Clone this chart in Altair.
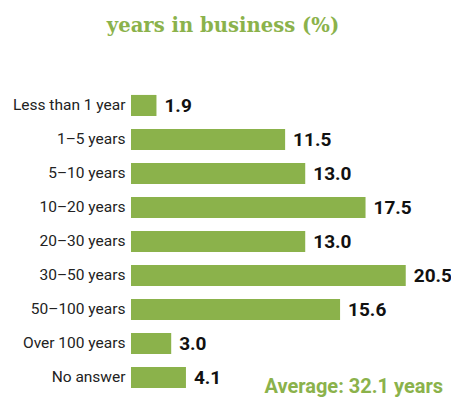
import altair as alt
import pandas as pd

categories = ["Less than 1 year", "1–5 years", "5–10 years", "10–20 years",
              "20–30 years", "30–50 years", "50–100 years", "Over 100 years", "No answer"]
values = [1.9, 11.5, 13.0, 17.5, 13.0, 20.5, 15.6, 3.0, 4.1]
title_text = "years in business (%)"
average_text = "Average: 32.1 years"

GREEN = "#8bb24b"
SANS = "Roboto"
df = pd.DataFrame({"cat": categories, "val": values})

W, H = 312, 300

base = alt.Chart(df).encode(
    y=alt.Y("cat:N", sort=categories,
            scale=alt.Scale(paddingInner=0.38, paddingOuter=0.102, align=1),
            axis=alt.Axis(title=None, domain=False, ticks=False, labelPadding=6,
                          labelFont=SANS, labelFontSize=15.5, labelFontWeight="normal",
                          labelColor="#222222", labelLimit=200)),
    x=alt.X("val:Q", scale=alt.Scale(domain=[0, 23.28], nice=False, zero=True),
            axis=None),
)

bars = base.mark_bar(color=GREEN)
labels = base.mark_text(align="left", baseline="middle", dx=8, dy=1,
                        font=SANS, fontWeight="bold",
                        fontSize=19, color="#111111").encode(
    text=alt.Text("val:Q", format=".1f"))

title = alt.Chart(pd.DataFrame({"t": [title_text]})).mark_text(
    font="DejaVu Serif", fontWeight="bold", fontSize=19.6, color=GREEN,
    align="center", baseline="alphabetic").encode(
    x=alt.value(92), y=alt.value(-56), text="t:N")

avg = alt.Chart(pd.DataFrame({"t": [average_text]})).mark_text(
    font=SANS, fontWeight="bold", fontSize=20, color=GREEN,
    align="right", baseline="alphabetic").encode(
    x=alt.value(W), y=alt.value(305), text="t:N")

chart = alt.layer(bars, labels, title, avg).properties(
    width=W, height=H,
    background="white",
    autosize=alt.AutoSizeParams(type="none"),
    padding={"left": 123, "top": 80, "right": 8, "bottom": 9},
).configure_view(strokeWidth=0)

chart.save("out.html", embed_options={"renderer": "svg", "actions": False})
